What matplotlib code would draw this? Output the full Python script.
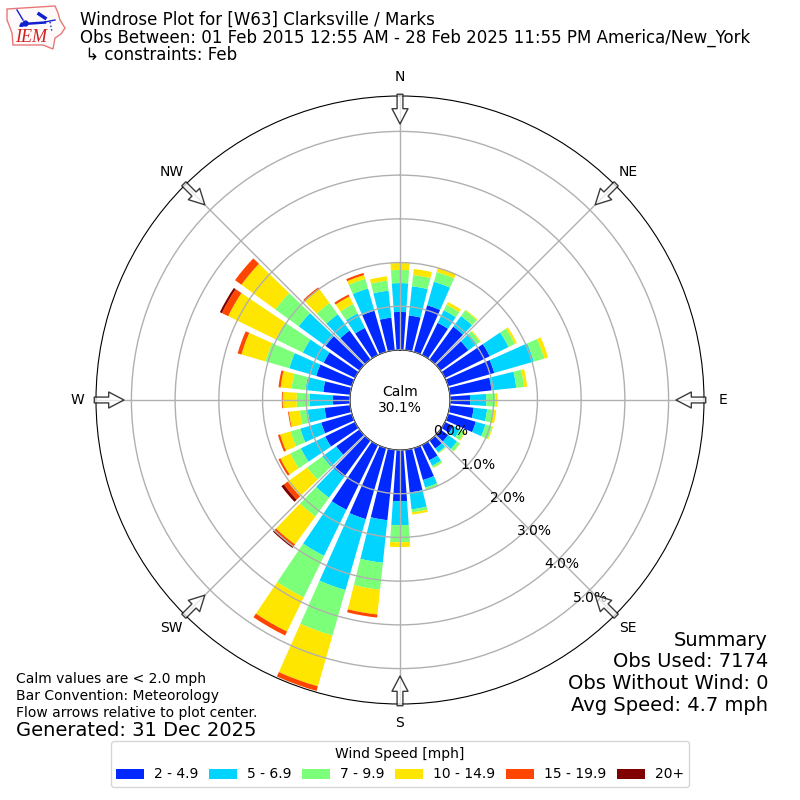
import numpy as np
import matplotlib
matplotlib.use("Agg")
import matplotlib.pyplot as plt
from matplotlib.lines import Line2D
from matplotlib.patches import Polygon

directions = list(range(0, 360, 10))
speed_labels = ["2 - 4.9", "5 - 6.9", "7 - 9.9", "10 - 14.9", "15 - 19.9", "20+"]
speed_colors = ["#0028ff", "#00d4ff", "#7cff79", "#ffe600", "#ff4600", "#800000"]

s_2_5 = [.87,.80,1.11,.82,.93,.79,1.14,1.10,.96,.46,.55,.66,.21,.22,.23,.39,.76,.98,
         1.17,1.62,1.69,1.65,1.03,.66,.76,.73,.59,.39,.62,.85,.80,.96,.82,.69,.98,.75]
s_5_7 = [.66,.67,.56,.32,.30,.24,.48,.94,.57,.37,.31,.23,.17,.25,.11,.14,.18,.39,
         .55,.98,1.69,1.17,.59,.39,.62,.50,.39,.53,.41,.64,.53,.76,.46,.37,.53,.62]
s_7_10 = [.30,.26,.23,.14,.16,.09,.16,.25,.18,.21,.14,.16,.12,.08,.02,.05,.07,.07,
          .39,.62,1.08,1.06,.53,.43,.27,.23,.18,.30,.32,.57,.69,.66,.32,.24,.23,.23]
s_10_15 = [.16,.14,.11,.07,.02,.02,.05,.09,.07,.05,.07,.02,.02,.01,.01,.01,0,.05,
           .11,.57,1.21,.87,.79,.55,.25,.25,.25,.32,.25,.57,1.21,.96,.39,.19,.09,.10]
s_15_20 = [0,0,0,0,0,0,0,0,0,0,0,0,0,0,0,0,0,0,
           0,.07,.11,.10,.05,.11,.05,.05,.02,.02,.05,.09,.16,.18,.05,.05,.05,0]
s_20_up = [0,0,0,0,0,0,0,0,0,0,0,0,0,0,0,0,0,0,
           0,0,0,0,.05,.07,0,0,0,0,0,0,.05,0,0,0,0,0]
series = [s_2_5, s_5_7, s_7_10, s_10_15, s_15_20, s_20_up]

r_ticks = [0, 1, 2, 3, 4, 5]
r_label_offsets = [(15, 4), (12, 1), (10, -1), (6, -3), (3, -5), (0.5, -8.5)]
compass = ["N", "NE", "E", "SE", "S", "SW", "W", "NW"]
compass_deg = [0, 45, 90, 135, 180, 225, 270, 315]

title_lines = ["Windrose Plot for [W63] Clarksville / Marks",
               "Obs Between: 01 Feb 2015 12:55 AM - 28 Feb 2025 11:55 PM America/New_York",
               " \u21b3 constraints: Feb"]
summary_lines = ["Summary", "Obs Used: 7174", "Obs Without Wind: 0", "Avg Speed: 4.7 mph"]
notes = ["Calm values are < 2.0 mph", "Bar Convention: Meteorology", "Flow arrows relative to plot center."]

fig = plt.figure(figsize=(8, 8), dpi=100)
ax = fig.add_axes([0.12, 0.12, 0.76, 0.76], projection="polar")
ax.set_theta_zero_location("N")
ax.set_theta_direction(-1)
ax.set_rorigin(-1.144)
ax.set_ylim(0, 5.81)

theta = np.deg2rad(directions)
bottom = np.zeros(len(directions))
for vals, lab, col in zip(series, speed_labels, speed_colors):
    ax.bar(theta, vals, width=np.deg2rad(8), bottom=bottom, color=col, label=lab, linewidth=0, zorder=2)
    bottom += np.array(vals)

ax.set_axisbelow(False)
ax.grid(True, color="#b0b0b0", linewidth=1, zorder=3)
ax.set_xticks(np.deg2rad(compass_deg))
ax.set_xticklabels(compass, fontsize=10)
ax.tick_params(axis="x", pad=3)
ax.set_yticks(r_ticks)
ax.set_yticklabels([])

for v, off in zip(r_ticks, r_label_offsets):
    ax.annotate(f"{v:.1f}%", xy=(np.deg2rad(135), v), xytext=off, textcoords="offset pixels",
                ha="center", va="center", fontsize=10, zorder=6, annotation_clip=False)

for d in compass_deg:
    ax.annotate("", xy=(np.deg2rad(d), 5.17), xytext=(np.deg2rad(d), 5.85),
                annotation_clip=False, zorder=7,
                arrowprops=dict(facecolor=(1, 1, 1, 0.7), edgecolor=(0.1, 0.1, 0.1, 0.85), linewidth=1,
                                width=4.2, headwidth=11.5, headlength=11, shrink=0))

ax.text(0.5, 0.5, "Calm\n30.1%", transform=ax.transAxes, ha="center", va="center", fontsize=10, zorder=8)

leg = ax.legend(loc="lower center", ncol=6, title="Wind Speed [mph]", fontsize=10, title_fontsize=10,
                columnspacing=0.8, handletextpad=0.7)
leg.set_bbox_to_anchor((0.5, 0.0075), transform=fig.transFigure)

for i, line in enumerate(title_lines):
    fig.text(0.1, 1 - (20 + 17.5 * i) / 800, line, fontsize=12, va="center", ha="left")
for i, line in enumerate(summary_lines):
    fig.text(0.96, 1 - (640 + 21.7 * i) / 800, line, fontsize=14, va="center", ha="right")
for i, line in enumerate(notes):
    fig.text(0.02, 1 - (679.5 + 16.5 * i) / 800, line, fontsize=10, va="center", ha="left")
fig.text(0.02, 1 - 730 / 800, "Generated: 31 Dec 2025", fontsize=14, va="center", ha="left")

# logo
lg = fig.add_axes([0, 1 - 56 / 800, 70 / 800, 56 / 800])
lg.set_xlim(0, 70)
lg.set_ylim(56, 0)
lg.axis("off")
outline_x = [7, 55, 58, 60, 65, 61, 55, 53, 43, 13, 12, 9, 7]
outline_y = [9, 6, 13, 20, 28, 34, 38, 49, 45, 45, 33, 25, 20]
lg.add_patch(Polygon(np.column_stack([outline_x, outline_y]), closed=True, fc="#fffafa", ec="#e87878", lw=1))
lg.add_line(Line2D([23, 45], [24, 22.5], color="#1020d0", lw=1.8))
lg.add_line(Line2D([17, 23], [10, 20], color="#1020d0", lw=1))
lg.add_line(Line2D([39, 45], [14, 18], color="#1020d0", lw=2.5))
lg.add_line(Line2D([45, 55], [22, 20], color="#1020d0", lw=1))
lg.add_line(Line2D([50, 52], [22, 32], color="#1020d0", lw=1, ls=":"))
lg.add_line(Line2D([25], [23], color="#1020d0", marker="o", ms=3.5))
lg.add_line(Line2D([20.5], [24], color="#1020d0", marker="^", ms=2.5))
lg.text(31, 38, "IEM", family="Liberation Serif", style="italic", color="#d02020", fontsize=13, ha="center", va="center")

fig.savefig("out.png", dpi=100)
